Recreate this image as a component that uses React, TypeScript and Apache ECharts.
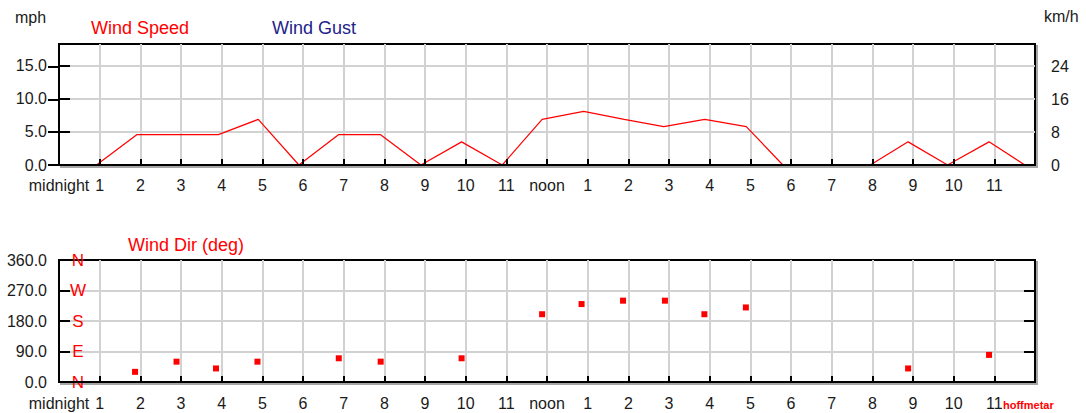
import React, { useEffect, useRef } from 'react';
import * as echarts from 'echarts';

// Wind speed observations (decimal hour of day, mph)
const speedTimes = [0.92, 1.92, 2.92, 3.92, 4.9, 5.9, 6.88, 7.9, 8.9, 9.9, 10.9, 11.88, 12.9, 13.9, 14.87, 15.88, 16.9, 17.8, 18.9, 19.95, 20.88, 21.85, 22.87, 23.75];
const speedMph = [0, 4.6, 4.6, 4.6, 6.9, 0, 4.6, 4.6, 0, 3.5, 0, 6.9, 8.1, 6.9, 5.8, 6.9, 5.8, 0, 0, 0, 3.5, 0, 3.5, 0];

// Wind direction observations (decimal hour of day, degrees)
const dirTimes = [1.87, 2.89, 3.86, 4.88, 6.88, 7.91, 9.9, 11.88, 12.85, 13.87, 14.9, 15.87, 16.89, 20.88, 22.87];
const dirDeg = [30, 60, 40, 60, 70, 60, 70, 200, 230, 240, 240, 200, 220, 40, 80];

// Tick labels
const hourNames = ['midnight', '1', '2', '3', '4', '5', '6', '7', '8', '9', '10', '11', 'noon', '1', '2', '3', '4', '5', '6', '7', '8', '9', '10', '11', ''];
const compassNames = ['N', 'E', 'S', 'W', 'N'];

const MPH_MAX = 18.3;
const KMH_PER_MPH = 1.609344;

const FONT = '"Liberation Sans", Arial, Helvetica, sans-serif';
const RED = '#ff0000';
const NAVY = '#22228b';
const GRIDLINE = '#d2d2d2';

export default function App() {
  const ref = useRef<HTMLDivElement>(null);

  useEffect(() => {
    if (!ref.current) return;
    const chart = echarts.init(ref.current, undefined, { renderer: 'svg' });

    const labelStyle = { color: '#1a1a1a', fontSize: 16, fontFamily: FONT };
    const gridBase = {
      show: true,
      left: 59,
      width: 976,
      backgroundColor: '#ffffff',
      borderColor: '#000000',
      borderWidth: 2,
      shadowColor: 'rgba(0,0,0,0.35)',
      shadowOffsetX: 2,
      shadowOffsetY: 2,
      shadowBlur: 1,
    };

    const xLabeled = (gi: number, margin: number) => ({
      gridIndex: gi,
      type: 'value',
      min: 0,
      max: 24,
      interval: 1,
      position: 'bottom',
      z: 5,
      axisLine: { show: true, onZero: false, lineStyle: { color: '#000', width: 2 } },
      axisTick: { show: true, inside: true, length: 6, lineStyle: { color: '#000', width: 2 } },
      axisLabel: {
        ...labelStyle,
        margin,
        showMinLabel: true,
        showMaxLabel: true,
        formatter: (v: number) => hourNames[Math.round(v)] ?? '',
      },
      splitLine: { show: false },
    });
    const xGridLines = (gi: number) => ({
      gridIndex: gi,
      type: 'value',
      min: 0,
      max: 24,
      interval: 1,
      position: 'top',
      axisLine: { show: false },
      axisTick: { show: false },
      axisLabel: { show: false },
      splitLine: { show: true, showMinLine: false, showMaxLine: false, lineStyle: { color: GRIDLINE, width: 2 } },
    });

    const insideTick = { show: true, inside: true, length: 11, lineStyle: { color: '#000', width: 2 } };

    chart.setOption({
      animation: false,
      backgroundColor: '#ffffff',
      grid: [
        { ...gridBase, top: 44, height: 121 },
        { ...gridBase, top: 260, height: 122 },
      ],
      xAxis: [xLabeled(0, 12), xGridLines(0), xLabeled(1, 13), xGridLines(1)],
      yAxis: [
        {
          gridIndex: 0,
          type: 'value',
          position: 'left',
          min: 0,
          max: MPH_MAX,
          interval: 5,
          axisLine: { show: false },
          axisTick: insideTick,
          axisLabel: { ...labelStyle, margin: 12, showMaxLabel: false, formatter: (v: number) => v.toFixed(1) },
          splitLine: { show: true, showMinLine: false, showMaxLine: false, lineStyle: { color: GRIDLINE, width: 2 } },
        },
        {
          gridIndex: 0,
          type: 'value',
          position: 'right',
          min: 0,
          max: MPH_MAX * KMH_PER_MPH,
          interval: 8,
          axisLine: { show: false },
          axisTick: insideTick,
          axisLabel: { ...labelStyle, margin: 16, showMaxLabel: false, formatter: (v: number) => (v % 8 === 0 ? String(v) : '') },
          splitLine: { show: false },
        },
        {
          gridIndex: 1,
          type: 'value',
          position: 'left',
          min: 0,
          max: 360,
          interval: 90,
          axisLine: { show: false },
          axisTick: insideTick,
          axisLabel: { ...labelStyle, margin: 12, formatter: (v: number) => v.toFixed(1) },
          splitLine: { show: true, showMinLine: false, showMaxLine: false, lineStyle: { color: GRIDLINE, width: 2 } },
        },
        {
          gridIndex: 1,
          type: 'value',
          position: 'left',
          min: 0,
          max: 360,
          interval: 90,
          axisLine: { show: false },
          axisTick: { show: false },
          axisLabel: {
            inside: true,
            margin: 19,
            align: 'center',
            color: RED,
            fontSize: 17,
            fontFamily: FONT,
            showMinLabel: true,
            showMaxLabel: true,
            formatter: (v: number) => compassNames[Math.round(v / 90)] ?? '',
          },
          splitLine: { show: false },
        },
        {
          gridIndex: 1,
          type: 'value',
          position: 'right',
          min: 0,
          max: 360,
          interval: 90,
          axisLine: { show: false },
          axisTick: insideTick,
          axisLabel: { show: false },
          splitLine: { show: false },
        },
      ],
      series: [
        {
          name: 'Wind Speed',
          type: 'line',
          xAxisIndex: 0,
          yAxisIndex: 0,
          data: speedTimes.map((t, i) => [t, speedMph[i]]),
          symbol: 'none',
          lineStyle: { color: RED, width: 1.2 },
          itemStyle: { color: RED },
          z: 2,
        },
        {
          name: 'Wind Dir (deg)',
          type: 'scatter',
          xAxisIndex: 2,
          yAxisIndex: 2,
          data: dirTimes.map((t, i) => [t, dirDeg[i]]),
          symbol: 'rect',
          symbolSize: 6,
          itemStyle: { color: RED, opacity: 1 },
          z: 2,
        },
      ],
      graphic: [
        { type: 'text', x: 15, y: 17, style: { text: 'mph', fill: '#1a1a1a', font: `16px ${FONT}`, align: 'left', verticalAlign: 'middle' } },
        { type: 'text', x: 1044, y: 16, style: { text: 'km/h', fill: '#1a1a1a', font: `16px ${FONT}`, align: 'left', verticalAlign: 'middle' } },
        { type: 'text', x: 91, y: 28, style: { text: 'Wind Speed', fill: RED, font: `18px ${FONT}`, align: 'left', verticalAlign: 'middle' } },
        { type: 'text', x: 272, y: 28, style: { text: 'Wind Gust', fill: NAVY, font: `18px ${FONT}`, align: 'left', verticalAlign: 'middle' } },
        { type: 'text', x: 128, y: 245, style: { text: 'Wind Dir (deg)', fill: RED, font: `18px ${FONT}`, align: 'left', verticalAlign: 'middle' } },
        { type: 'text', x: 1003, y: 405, z: 10, style: { text: 'hoffmetar', fill: RED, font: `bold 11px ${FONT}`, align: 'left', verticalAlign: 'middle' } },
      ],
    });

    return () => chart.dispose();
  }, []);

  return <div ref={ref} style={{ position: 'fixed', left: 0, top: 0, width: 1086, height: 413, background: '#fff' }} />;
}
